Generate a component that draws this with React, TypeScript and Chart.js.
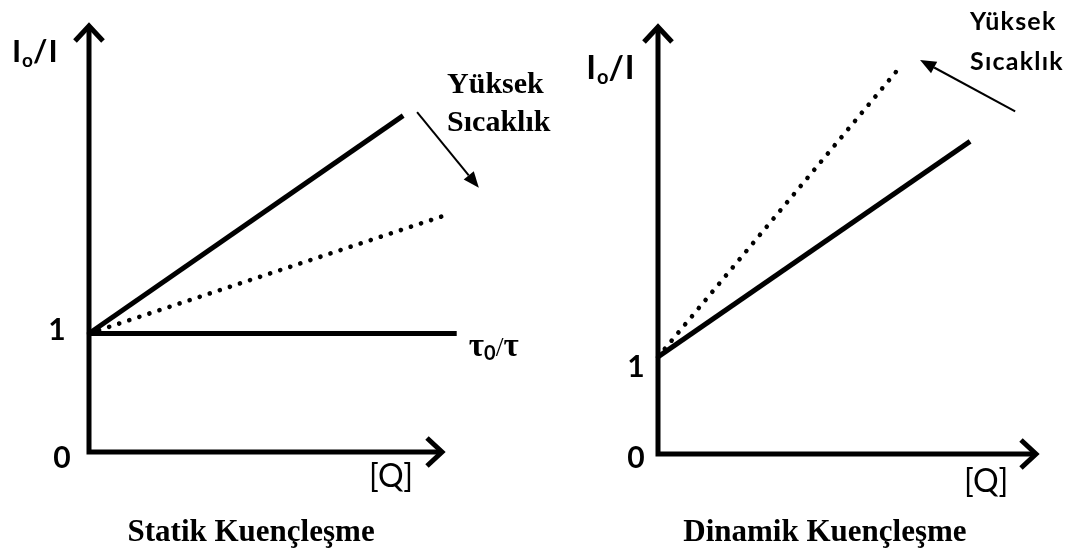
import React, { useEffect, useRef } from "react";
import { Chart, registerables } from "chart.js";

Chart.register(...registerables);

const WIDTH = 1070;
const HEIGHT = 552;

// Y-axis reference ticks (I0/I = 0 and 1)
const yTicks = [0, 1];

// Static quenching: Stern–Volmer line, higher-temperature line, lifetime ratio
const staticQ = [0, 8.8];
const staticRatio = [1, 2.84];
const staticHotQ = [0, 10];
const staticHotRatio = [1, 2.0];
const lifetimeQ = [0, 10.3];
const lifetimeRatio = [1, 1];

// Dynamic quenching: Stern–Volmer line and higher-temperature line
const dynamicQ = [0, 8.17];
const dynamicRatio = [1, 3.22];
const dynamicHotQ = [0, 6.28];
const dynamicHotRatio = [1, 3.96];

const SERIF = '"Liberation Serif", "Times New Roman", serif';
const SANS = 'Lato, "Noto Sans", sans-serif';

type Part = { t: string; font: string; dy?: number; gap?: number };
type Label = { x: number; y: number; align: CanvasTextAlign; parts: Part[]; spacing?: number };
type Arrow = { from: [number, number]; to: [number, number] };
type TickPos = { dx: number; dy: number };

interface Panel {
  id: string;
  xMax: number;
  yMax: number;
  pad: { left: number; right: number; top: number; bottom: number };
  tickPos: TickPos[];
  labels: Label[];
  arrows: Arrow[];
}

const toPoints = (xs: number[], ys: number[]) => xs.map((x, i) => ({ x, y: ys[i] }));

const solid = (xs: number[], ys: number[]) => ({
  data: toPoints(xs, ys),
  borderColor: "#000",
  borderWidth: 5,
  pointRadius: 0,
  fill: false,
  tension: 0,
  clip: false as const,
});

const dotted = (xs: number[], ys: number[]) => ({
  data: toPoints(xs, ys),
  borderColor: "#000",
  borderWidth: 4.6,
  borderDash: [0.1, 10.5],
  borderCapStyle: "round" as const,
  pointRadius: 0,
  fill: false,
  tension: 0,
  clip: false as const,
});

const ioLabel = (x: number, y: number, size: number): Label => ({
  x,
  y,
  align: "left",
  parts: [
    { t: "I", font: `bold ${size}px ${SANS}` },
    { t: "o", font: `bold ${Math.round(size * 0.6)}px ${SANS}`, dy: 5, gap: 1 },
    { t: "/", font: `bold ${size}px ${SANS}`, gap: 0 },
    { t: "I", font: `bold ${size}px ${SANS}`, gap: 1 },
  ],
});

const staticPanel: Panel = {
  id: "static",
  xMax: 10,
  yMax: 3.63,
  pad: { left: 89, right: 624, top: 22, bottom: 100 },
  tickPos: [
    { dx: -27, dy: 16 },
    { dx: -32, dy: 6.5 },
  ],
  labels: [
    ioLabel(-2.16, 3.29, 31),
    {
      x: 10.64,
      y: 0.81,
      align: "left",
      parts: [
        { t: "τ", font: `bold 33px ${SERIF}` },
        { t: "0", font: `bold 20px ${SANS}`, dy: 4 },
        { t: "/", font: `28px ${SERIF}` },
        { t: "τ", font: `bold 33px ${SERIF}` },
      ],
    },
    { x: 8.46, y: -0.295, align: "center", parts: [{ t: "[Q]", font: `32px ${SANS}` }] },
    { x: 10.03, y: 3.03, align: "left", parts: [{ t: "Yüksek", font: `bold 30px ${SERIF}` }] },
    { x: 10.03, y: 2.71, align: "left", parts: [{ t: "Sıcaklık", font: `bold 30px ${SERIF}` }] },
    { x: 4.54, y: -0.75, align: "center", parts: [{ t: "Statik Kuençleşme", font: `bold 31px ${SERIF}` }] },
  ],
  arrows: [{ from: [9.19, 2.87], to: [10.92, 2.23] }],
};

const dynamicPanel: Panel = {
  id: "dynamic",
  xMax: 10,
  yMax: 4.44,
  pad: { left: 658, right: 30, top: 23, bottom: 98 },
  tickPos: [
    { dx: -22, dy: 14 },
    { dx: -22, dy: 20 },
  ],
  labels: [
    ioLabel(-1.88, 3.86, 33),
    { x: 8.59, y: -0.39, align: "center", parts: [{ t: "[Q]", font: `32px ${SANS}` }] },
    { x: 8.17, y: 4.37, align: "left", spacing: 1.2, parts: [{ t: "Yüksek", font: `bold 25px ${SANS}` }] },
    { x: 8.17, y: 3.96, align: "left", spacing: 1.2, parts: [{ t: "Sıcaklık", font: `bold 25px ${SANS}` }] },
    { x: 4.37, y: -0.9, align: "center", parts: [{ t: "Dinamik Kuençleşme", font: `bold 31px ${SERIF}` }] },
  ],
  arrows: [{ from: [9.35, 3.53], to: [6.86, 4.06] }],
};

// Draws axes with open arrowheads, tick labels, annotation arrows and texts.
const overlay = (p: Panel) => ({
  id: `overlay-${p.id}`,
  afterDatasetsDraw(chart: any) {
    const { ctx } = chart;
    const xs = chart.scales.x;
    const ys = chart.scales.y;
    const X = (v: number) => xs.getPixelForValue(v);
    const Y = (v: number) => ys.getPixelForValue(v);
    const x0 = X(0);
    const y0 = Y(0);
    const xTip = X(p.xMax) - 4;
    const yTip = Y(p.yMax) + 4;

    ctx.save();
    ctx.strokeStyle = "#000";
    ctx.fillStyle = "#000";
    ctx.lineWidth = 5;
    ctx.lineJoin = "miter";
    ctx.lineCap = "butt";

    ctx.beginPath();
    ctx.moveTo(x0, yTip);
    ctx.lineTo(x0, y0);
    ctx.lineTo(xTip, y0);
    ctx.stroke();

    ctx.beginPath();
    ctx.moveTo(x0 - 14, yTip + 15);
    ctx.lineTo(x0, yTip);
    ctx.lineTo(x0 + 14, yTip + 15);
    ctx.stroke();

    ctx.beginPath();
    ctx.moveTo(xTip - 15, y0 - 14);
    ctx.lineTo(xTip, y0);
    ctx.lineTo(xTip - 15, y0 + 14);
    ctx.stroke();

    // thin annotation arrows
    ctx.lineWidth = 2;
    p.arrows.forEach((a) => {
      const fx = X(a.from[0]);
      const fy = Y(a.from[1]);
      const tx = X(a.to[0]);
      const ty = Y(a.to[1]);
      const ang = Math.atan2(ty - fy, tx - fx);
      const head = 16;
      const half = 6.5;
      const bx = tx - head * Math.cos(ang);
      const by = ty - head * Math.sin(ang);
      ctx.beginPath();
      ctx.moveTo(fx, fy);
      ctx.lineTo(bx, by);
      ctx.stroke();
      ctx.beginPath();
      ctx.moveTo(tx, ty);
      ctx.lineTo(bx + half * Math.sin(ang), by - half * Math.cos(ang));
      ctx.lineTo(bx - half * Math.sin(ang), by + half * Math.cos(ang));
      ctx.closePath();
      ctx.fill();
    });

    ctx.textBaseline = "alphabetic";

    // tick labels 0 and 1
    ctx.textAlign = "center";
    ctx.font = `bold 30px ${SANS}`;
    yTicks.forEach((v, i) => {
      const pos = p.tickPos[i];
      ctx.fillText(String(v), x0 + pos.dx, Y(v) + pos.dy);
    });

    // text labels
    p.labels.forEach((l) => {
      (ctx as any).letterSpacing = `${l.spacing ?? 0}px`;
      let total = 0;
      const widths = l.parts.map((part) => {
        ctx.font = part.font;
        const w = ctx.measureText(part.t).width + (part.gap ?? 0);
        total += w;
        return w;
      });
      let cx = X(l.x) - (l.align === "center" ? total / 2 : 0);
      const cy = Y(l.y);
      ctx.textAlign = "left";
      l.parts.forEach((part, i) => {
        ctx.font = part.font;
        ctx.fillText(part.t, cx + (part.gap ?? 0), cy + (part.dy ?? 0));
        cx += widths[i];
      });
      (ctx as any).letterSpacing = "0px";
    });

    ctx.restore();
  },
});

const makeChart = (canvas: HTMLCanvasElement, p: Panel, datasets: any[]) =>
  new Chart(canvas, {
    type: "line",
    data: { datasets },
    options: {
      responsive: false,
      animation: false,
      events: [],
      layout: { padding: p.pad },
      scales: {
        x: { type: "linear", display: false, min: 0, max: p.xMax },
        y: { type: "linear", display: false, min: 0, max: p.yMax },
      },
      plugins: { legend: { display: false }, tooltip: { enabled: false } },
    },
    plugins: [overlay(p)],
  });

export default function App() {
  const leftRef = useRef<HTMLCanvasElement>(null);
  const rightRef = useRef<HTMLCanvasElement>(null);

  useEffect(() => {
    if (!leftRef.current || !rightRef.current) return;
    const left = makeChart(leftRef.current, staticPanel, [
      solid(staticQ, staticRatio),
      dotted(staticHotQ, staticHotRatio),
      solid(lifetimeQ, lifetimeRatio),
    ]);
    const right = makeChart(rightRef.current, dynamicPanel, [
      solid(dynamicQ, dynamicRatio),
      dotted(dynamicHotQ, dynamicHotRatio),
    ]);
    return () => {
      left.destroy();
      right.destroy();
    };
  }, []);

  const canvasStyle: React.CSSProperties = {
    position: "absolute",
    left: 0,
    top: 0,
    width: WIDTH,
    height: HEIGHT,
  };

  return (
    <div
      style={{
        position: "fixed",
        left: 0,
        top: 0,
        width: WIDTH,
        height: HEIGHT,
        background: "#fff",
      }}
    >
      <canvas ref={leftRef} width={WIDTH} height={HEIGHT} style={canvasStyle} />
      <canvas ref={rightRef} width={WIDTH} height={HEIGHT} style={canvasStyle} />
    </div>
  );
}
